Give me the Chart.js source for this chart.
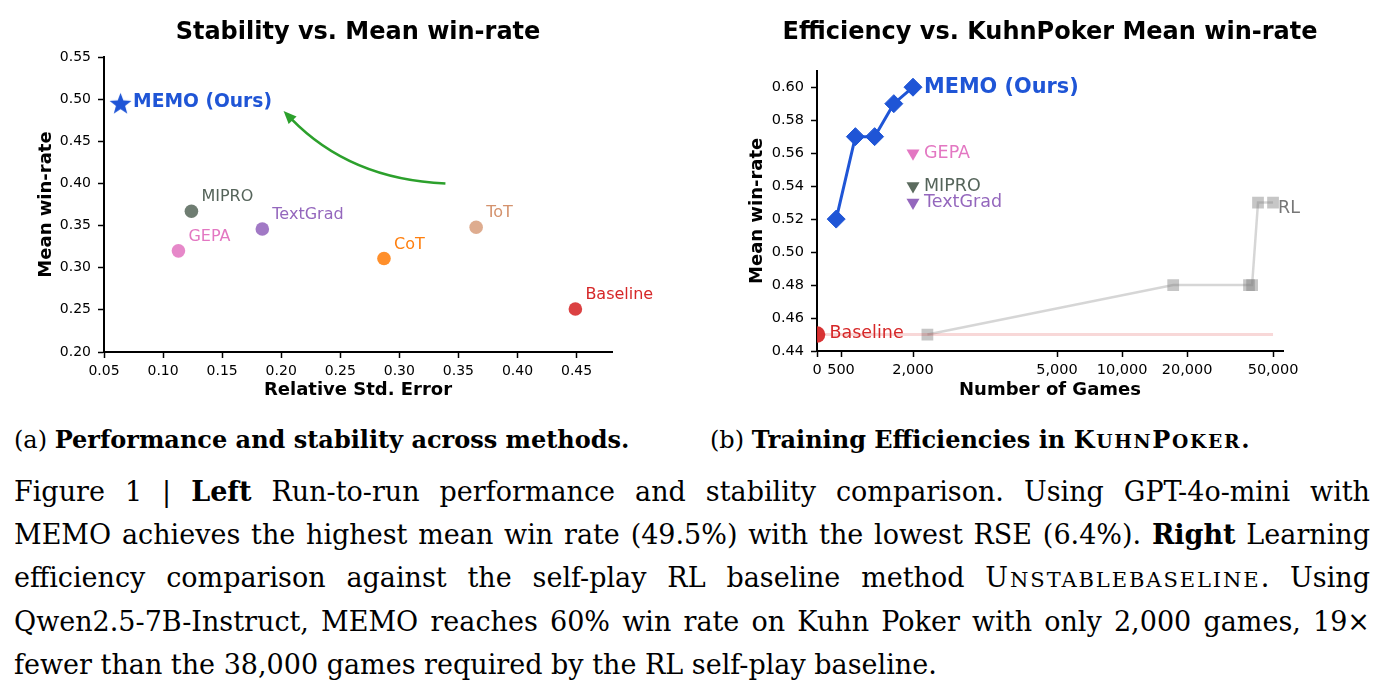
<!DOCTYPE html>
<html>
<head>
<meta charset="utf-8">
<script src="https://cdn.jsdelivr.net/npm/chart.js@4.4.1/dist/chart.umd.min.js"></script>
<style>
  html,body{margin:0;padding:0;background:#fff;}
  body{width:1384px;height:688px;position:relative;overflow:hidden;color:#000;font-family:"DejaVu Serif",serif;}
  #w1{position:absolute;left:0;top:0;width:716px;height:410px;}
  #w2{position:absolute;left:716px;top:0;width:668px;height:410px;}
  .sub{position:absolute;font-size:24px;line-height:34px;white-space:nowrap;}
  .ln{position:absolute;left:14px;width:1356px;font-size:27px;line-height:44px;height:44px;text-align:justify;text-align-last:justify;word-spacing:-2px;}
  .ln.last{text-align-last:left;word-spacing:0;}
  .sc{letter-spacing:0.07em;}
  .sc small{font-size:0.78em;}
</style>
</head>
<body>
<div id="w1"><canvas id="c1"></canvas></div>
<div id="w2"><canvas id="c2"></canvas></div>

<div class="sub" style="left:14px;top:423px;">(a) <b>Performance and stability across methods.</b></div>
<div class="sub" style="left:710px;top:423px;">(b) <b>Training Efficiencies in <span class="sc">K<small>UHN</small>P<small>OKER</small></span>.</b></div>
<div class="ln" style="top:470px;">Figure 1 | <b>Left</b> Run-to-run performance and stability comparison. Using GPT-4o-mini with</div>
<div class="ln" style="top:513px;">MEMO achieves the highest mean win rate (49.5%) with the lowest RSE (6.4%). <b>Right</b> Learning</div>
<div class="ln" style="top:556px;">efficiency comparison against the self-play RL baseline method <span class="sc">U<small>NSTABLEBASELINE</small></span>. Using</div>
<div class="ln" style="top:600px;">Qwen2.5-7B-Instruct, MEMO reaches 60% win rate on Kuhn Poker with only 2,000 games, 19×</div>
<div class="ln last" style="top:643px;">fewer than the 38,000 games required by the RL self-play baseline.</div>

<script>
// ---------------- DATA (left: stability vs mean win-rate) ----------------
const methods   = ['MEMO (Ours)', 'MIPRO', 'TextGrad', 'GEPA', 'CoT', 'ToT', 'Baseline'];
const rse       = [0.064, 0.124, 0.184, 0.113, 0.287, 0.365, 0.449];
const winRate   = [0.495, 0.367, 0.346, 0.320, 0.311, 0.348, 0.251];
const leftXTicks = [0.05, 0.10, 0.15, 0.20, 0.25, 0.30, 0.35, 0.40, 0.45];
const leftYTicks = [0.20, 0.25, 0.30, 0.35, 0.40, 0.45, 0.50, 0.55];
const arrowFrom = [0.339, 0.400];
const arrowTo   = [0.202, 0.486];

// ---------------- DATA (right: efficiency) ----------------
const memoGames = [400, 800, 1200, 1600, 2000];
const memoWin   = [0.52, 0.57, 0.57, 0.59, 0.60];
const promptMethods = ['GEPA', 'MIPRO', 'TextGrad'];
const promptGames   = [2000, 2000, 2000];
const promptWin     = [0.56, 0.54, 0.53];
const rlGames = [2300, 17250, 38700, 40000, 42600, 50000];
const rlWin   = [0.45, 0.48, 0.48, 0.48, 0.53, 0.53];
const baselineGames = [0, 50000];
const baselineWin   = [0.45, 0.45];
const rightXTicks = [0, 500, 2000, 5000, 10000, 20000, 50000];
const rightYTicks = [0.44, 0.46, 0.48, 0.50, 0.52, 0.54, 0.56, 0.58, 0.60];

// ---------------- styles ----------------
const colors = {
  'MEMO (Ours)': '#1f55d6', 'MIPRO': '#5b6b5e', 'TextGrad': '#9467bd', 'GEPA': '#e377c2',
  'CoT': '#ff7f0e', 'ToT': '#d9a07f', 'Baseline': '#d62728', 'RL': '#808080'
};
const labelColors = {
  'MEMO (Ours)': '#1f55d6', 'MIPRO': '#55645a', 'TextGrad': '#9467bd', 'GEPA': '#e377c2',
  'CoT': '#ff7f0e', 'ToT': '#d4926d', 'Baseline': '#d62728', 'RL': '#777777'
};
const SANS = '"DejaVu Sans", sans-serif';

// ---------------- symlog scale ----------------
class SymlogScale extends Chart.LinearScale {
  static id = 'symlog';
  static defaults = {};
  _tf(v) {
    const C = this.options.linthresh || 5000;
    const L = (this.options.linscale || 1) / (1 - 1 / 10);
    const a = Math.abs(v), s = Math.sign(v);
    return a <= C ? (v / C) * L : s * (L + Math.log10(a / C));
  }
  _itf(t) {
    const C = this.options.linthresh || 5000;
    const L = (this.options.linscale || 1) / (1 - 1 / 10);
    const a = Math.abs(t), s = Math.sign(t);
    return a <= L ? (t / L) * C : s * C * Math.pow(10, a - L);
  }
  configure() {
    super.configure();
    this._tMin = this._tf(this.min);
    this._tMax = this._tf(this.max);
  }
  getPixelForValue(v) {
    if (v === null || v === undefined || isNaN(v)) return NaN;
    return this.getPixelForDecimal((this._tf(v) - this._tMin) / (this._tMax - this._tMin));
  }
  getValueForPixel(p) {
    return this._itf(this._tMin + this.getDecimalForPixel(p) * (this._tMax - this._tMin));
  }
}
Chart.register(SymlogScale);

// ---------------- plugins ----------------
const chartTitle = {
  id: 'chartTitle',
  afterDraw(chart, args, opts) {
    if (!opts.text) return;
    const ctx = chart.ctx, ca = chart.chartArea;
    ctx.save();
    ctx.font = 'bold ' + opts.size + 'px ' + SANS;
    ctx.fillStyle = '#000';
    ctx.textAlign = 'center';
    ctx.textBaseline = 'middle';
    ctx.fillText(opts.text, (ca.left + ca.right) / 2, opts.y);
    ctx.restore();
  }
};
const pointLabels = {
  id: 'pointLabels',
  afterDatasetsDraw(chart, args, opts) {
    const ctx = chart.ctx, xs = chart.scales.x, ys = chart.scales.y;
    (opts.items || []).forEach(it => {
      ctx.save();
      ctx.font = (it.bold ? 'bold ' : '') + it.size + 'px ' + SANS;
      ctx.fillStyle = it.color;
      ctx.textAlign = 'left';
      ctx.textBaseline = 'middle';
      ctx.fillText(it.text, xs.getPixelForValue(it.x) + it.dx, ys.getPixelForValue(it.y) + it.dy);
      ctx.restore();
    });
  }
};
const curvedArrow = {
  id: 'curvedArrow',
  afterDatasetsDraw(chart, args, opts) {
    if (!opts.from) return;
    const ctx = chart.ctx, xs = chart.scales.x, ys = chart.scales.y;
    const x1 = xs.getPixelForValue(opts.from[0]), y1 = ys.getPixelForValue(opts.from[1]);
    const x2 = xs.getPixelForValue(opts.to[0]), y2 = ys.getPixelForValue(opts.to[1]);
    const dx = x2 - x1, dy = y2 - y1;
    const cx = (x1 + x2) / 2 + opts.rad * dy, cy = (y1 + y2) / 2 - opts.rad * dx;
    const ang = Math.atan2(y2 - cy, x2 - cx);
    const hl = 13, hw = 5.5;
    const bx = x2 - hl * 0.8 * Math.cos(ang), by = y2 - hl * 0.8 * Math.sin(ang);
    ctx.save();
    ctx.strokeStyle = opts.color; ctx.fillStyle = opts.color; ctx.lineWidth = 2.6;
    ctx.beginPath(); ctx.moveTo(x1, y1); ctx.quadraticCurveTo(cx, cy, bx, by); ctx.stroke();
    ctx.beginPath();
    ctx.moveTo(x2, y2);
    ctx.lineTo(x2 - hl * Math.cos(ang) + hw * Math.sin(ang), y2 - hl * Math.sin(ang) - hw * Math.cos(ang));
    ctx.lineTo(x2 - hl * Math.cos(ang) - hw * Math.sin(ang), y2 - hl * Math.sin(ang) + hw * Math.cos(ang));
    ctx.closePath(); ctx.fill();
    ctx.restore();
  }
};

function starCanvas(r, color) {
  const c = document.createElement('canvas');
  const s = Math.ceil(r * 2 + 2);
  c.width = s; c.height = s;
  const g = c.getContext('2d');
  g.fillStyle = color; g.beginPath();
  for (let i = 0; i < 10; i++) {
    const rr = i % 2 ? r * 0.42 : r;
    const a = -Math.PI / 2 + i * Math.PI / 5;
    g.lineTo(s / 2 + rr * Math.cos(a), s / 2 + 1 + rr * Math.sin(a));
  }
  g.closePath(); g.fill();
  return c;
}

function axisCommon(tickSize) {
  return {
    grid: { display: true, drawOnChartArea: false, drawTicks: true, tickLength: 6, tickColor: '#000', tickWidth: 1.5 },
    border: { display: true, color: '#000', width: 2 },
    ticks: { color: '#000', font: { family: SANS, size: tickSize }, autoSkip: false, maxRotation: 0, padding: 5 }
  };
}
function withAlpha(hex, a) {
  const n = parseInt(hex.slice(1), 16);
  return `rgba(${n >> 16},${(n >> 8) & 255},${n & 255},${a})`;
}

Chart.defaults.font.family = SANS;
Chart.defaults.animation = false;

// ---------------- left chart ----------------
const leftDatasets = methods.map((m, i) => ({
  label: m,
  data: [{ x: rse[i], y: winRate[i] }],
  pointStyle: i === 0 ? starCanvas(11.5, colors[m]) : 'circle',
  pointRadius: 6.8,
  pointBackgroundColor: withAlpha(colors[m], 0.88),
  pointBorderWidth: 0,
  showLine: false
}));
const leftLabels = methods.map((m, i) => ({
  text: m, x: rse[i], y: winRate[i], color: labelColors[m],
  bold: i === 0, size: i === 0 ? 18.7 : 16,
  dx: i === 0 ? 12.5 : 10, dy: i === 0 ? -1 : -14
}));
const lx = axisCommon(14), ly = axisCommon(14);
new Chart(document.getElementById('c1'), {
  type: 'scatter',
  data: { datasets: leftDatasets },
  plugins: [pointLabels, curvedArrow, chartTitle],
  options: {
    responsive: true, maintainAspectRatio: false,
    layout: { padding: { left: 0, right: 104, top: 57, bottom: 0 } },
    plugins: {
      legend: { display: false }, tooltip: { enabled: false }, title: { display: false },
      chartTitle: { text: 'Stability vs. Mean win-rate', size: 24, y: 33 },
      pointLabels: { items: leftLabels },
      curvedArrow: { from: arrowFrom, to: arrowTo, rad: 0.2, color: '#2ca02c' }
    },
    scales: {
      x: { type: 'linear', min: 0.05, max: 0.48, ...lx,
           ticks: { ...lx.ticks, callback: v => v.toFixed(2) },
           afterBuildTicks: s => { s.ticks = leftXTicks.map(v => ({ value: v })); },
           afterFit: s => { s.height = 58; },
           title: { display: true, text: 'Relative Std. Error', color: '#000', font: { family: SANS, size: 18, weight: 'bold' }, padding: { top: 0, bottom: 9 } } },
      y: { type: 'linear', min: 0.20, max: 0.55, ...ly,
           ticks: { ...ly.ticks, padding: 7, callback: v => v.toFixed(2) },
           afterBuildTicks: s => { s.ticks = leftYTicks.map(v => ({ value: v })); },
           afterFit: s => { s.width = 104; },
           title: { display: true, text: 'Mean win-rate', color: '#000', font: { family: SANS, size: 18, weight: 'bold' }, padding: { top: 36, bottom: 0 } } }
    }
  }
});

// ---------------- right chart ----------------
const rightLabels = [
  { text: 'MEMO (Ours)', x: memoGames[memoGames.length - 1], y: memoWin[memoWin.length - 1], color: labelColors['MEMO (Ours)'], bold: true, size: 20.8, dx: 11, dy: 0 },
  ...promptMethods.map((m, i) => ({ text: m, x: promptGames[i], y: promptWin[i], color: labelColors[m], bold: false, size: 17.5, dx: 11, dy: 0 })),
  { text: 'RL', x: rlGames[rlGames.length - 1], y: rlWin[rlWin.length - 1], color: labelColors['RL'], bold: false, size: 17.5, dx: 5, dy: 6 },
  { text: 'Baseline', x: baselineGames[0], y: baselineWin[0], color: labelColors['Baseline'], bold: false, size: 17.5, dx: 12.5, dy: -1 }
];
const rx = axisCommon(14.5), ry = axisCommon(14.5);
new Chart(document.getElementById('c2'), {
  type: 'scatter',
  data: {
    datasets: [
      { label: 'MEMO (Ours)', data: memoGames.map((g, i) => ({ x: g, y: memoWin[i] })), showLine: true,
        borderColor: colors['MEMO (Ours)'], borderWidth: 3, pointStyle: 'rectRot', pointRadius: 9,
        pointBackgroundColor: colors['MEMO (Ours)'], pointBorderColor: colors['MEMO (Ours)'], pointBorderWidth: 1, order: 1 },
      ...promptMethods.map((m, i) => ({ label: m, data: [{ x: promptGames[i], y: promptWin[i] }], showLine: false,
        pointStyle: 'triangle', rotation: 180, pointRadius: 7.5, pointBackgroundColor: colors[m], pointBorderWidth: 0, order: 2 })),
      { label: 'RL', data: rlGames.map((g, i) => ({ x: g, y: rlWin[i] })), showLine: true,
        borderColor: 'rgba(200,200,200,0.75)', borderWidth: 2.5, pointStyle: 'rect', pointRadius: 8.3,
        pointBackgroundColor: 'rgba(128,128,128,0.45)', pointBorderWidth: 0, order: 4 },
      { label: 'Baseline', data: baselineGames.map((g, i) => ({ x: g, y: baselineWin[i] })), showLine: true,
        borderColor: 'rgba(214,39,40,0.18)', borderWidth: 3, pointStyle: 'circle', pointRadius: [8.3, 0],
        pointBackgroundColor: withAlpha(colors['Baseline'], 0.95), pointBorderWidth: 0, order: 3,
        clip: { left: 0, top: 30, right: 30, bottom: 30 } }
    ]
  },
  plugins: [pointLabels, chartTitle],
  options: {
    responsive: true, maintainAspectRatio: false,
    layout: { padding: { left: 0, right: 101, top: 70.7, bottom: 0 } },
    plugins: {
      legend: { display: false }, tooltip: { enabled: false }, title: { display: false },
      chartTitle: { text: 'Efficiency vs. KuhnPoker Mean win-rate', size: 24, y: 33 },
      pointLabels: { items: rightLabels }
    },
    scales: {
      x: { type: 'symlog', linthresh: 5000, linscale: 1, min: 0, max: 55600, bounds: 'data', ...rx,
           ticks: { ...rx.ticks, callback: v => Number(v).toLocaleString('en-US') },
           afterBuildTicks: s => { s.ticks = rightXTicks.map(v => ({ value: v })); },
           afterFit: s => { s.height = 59; },
           title: { display: true, text: 'Number of Games', color: '#000', font: { family: SANS, size: 18, weight: 'bold' }, padding: { top: 0, bottom: 9 } } },
      y: { type: 'linear', min: 0.44, max: 0.61, ...ry,
           ticks: { ...ry.ticks, padding: 7, callback: v => v.toFixed(2) },
           afterBuildTicks: s => { s.ticks = rightYTicks.map(v => ({ value: v })); },
           afterFit: s => { s.width = 101; },
           title: { display: true, text: 'Mean win-rate', color: '#000', font: { family: SANS, size: 18, weight: 'bold' }, padding: { top: 31, bottom: 0 } } }
    }
  }
});
</script>
</body>
</html>
